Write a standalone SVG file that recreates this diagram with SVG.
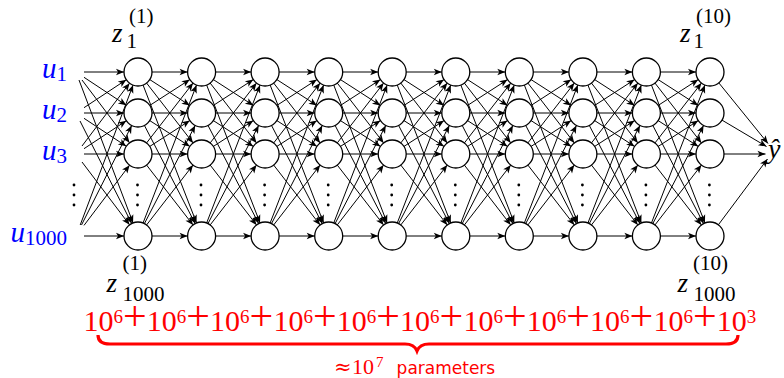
<svg xmlns="http://www.w3.org/2000/svg" width="784" height="378" viewBox="0 0 784 378">
  <style>
    .n circle { fill: #fff; stroke: #000; stroke-width: 1.3; }
    .c line { stroke: #000; stroke-width: 1; fill: none; }
    .dots circle { fill: #000; }
    .in { fill: #00f; font-family: "Liberation Serif", "DejaVu Serif", serif; font-size: 29px; font-style: italic; }
    .in tspan { font-style: normal; font-size: 21px; }
    .zi { font-family: "Liberation Serif", "DejaVu Serif", serif; font-size: 27px; font-style: italic; fill: #000; }
    .sc { font-size: 21px; font-style: normal; }
    .red { font-family: "Liberation Serif", "DejaVu Serif", serif; fill: #f00; }
    .big { font-size: 30px; }
    .sup { font-size: 19px; }
    .plus { font-size: 42px; }
  </style>
  <defs>
    <!-- arrowhead whose tip sits 14px before the line end (on the circle border) -->
    <marker id="ah" viewBox="-30 -10 40 20" markerWidth="40" markerHeight="20" refX="0" refY="0" markerUnits="userSpaceOnUse" orient="auto">
      <path d="M-14,0 L-22,-3.3 L-20,0 L-22,3.3 Z" fill="#000"/>
    </marker>
    <!-- arrowhead with the tip at the line end -->
    <marker id="at" viewBox="-20 -10 30 20" markerWidth="30" markerHeight="20" refX="0" refY="0" markerUnits="userSpaceOnUse" orient="auto">
      <path d="M0,0 L-8,-3.3 L-6,0 L-8,3.3 Z" fill="#000"/>
    </marker>
  </defs>
  <rect width="784" height="378" fill="#fff"/>

  <!-- connectors -->
  <g id="connectors" class="c" marker-end="url(#ah)">
    <!-- inputs to layer 1 -->
    <line x1="84" y1="72" x2="138" y2="72"/>
    <line x1="84" y1="77.3" x2="138" y2="113"/>
    <line x1="82" y1="80" x2="138" y2="154"/>
    <line x1="79" y1="80" x2="138" y2="236"/>
    <line x1="84" y1="107.7" x2="138" y2="72"/>
    <line x1="84" y1="113" x2="138" y2="113"/>
    <line x1="84" y1="118.3" x2="138" y2="154"/>
    <line x1="80" y1="121" x2="138" y2="236"/>
    <line x1="82" y1="146" x2="138" y2="72"/>
    <line x1="84" y1="148.7" x2="138" y2="113"/>
    <line x1="84" y1="154" x2="138" y2="154"/>
    <line x1="82" y1="162" x2="138" y2="236"/>
    <line x1="80.2" y1="225" x2="138" y2="72"/>
    <line x1="81.5" y1="225" x2="138" y2="113"/>
    <line x1="84" y1="225.4" x2="138" y2="154"/>
    <line x1="84" y1="236" x2="138" y2="236"/>
    <!-- layer 1 to 2 -->
    <line x1="138" y1="72" x2="201.6" y2="72"/><line x1="138" y1="72" x2="201.6" y2="113"/><line x1="138" y1="72" x2="201.6" y2="154"/><line x1="138" y1="72" x2="201.6" y2="236"/>
    <line x1="138" y1="113" x2="201.6" y2="72"/><line x1="138" y1="113" x2="201.6" y2="113"/><line x1="138" y1="113" x2="201.6" y2="154"/><line x1="138" y1="113" x2="201.6" y2="236"/>
    <line x1="138" y1="154" x2="201.6" y2="72"/><line x1="138" y1="154" x2="201.6" y2="113"/><line x1="138" y1="154" x2="201.6" y2="154"/><line x1="138" y1="154" x2="201.6" y2="236"/>
    <line x1="138" y1="236" x2="201.6" y2="72"/><line x1="138" y1="236" x2="201.6" y2="113"/><line x1="138" y1="236" x2="201.6" y2="154"/><line x1="138" y1="236" x2="201.6" y2="236"/>
    <!-- layer 2 to 3 -->
    <line x1="201.6" y1="72" x2="265.1" y2="72"/><line x1="201.6" y1="72" x2="265.1" y2="113"/><line x1="201.6" y1="72" x2="265.1" y2="154"/><line x1="201.6" y1="72" x2="265.1" y2="236"/>
    <line x1="201.6" y1="113" x2="265.1" y2="72"/><line x1="201.6" y1="113" x2="265.1" y2="113"/><line x1="201.6" y1="113" x2="265.1" y2="154"/><line x1="201.6" y1="113" x2="265.1" y2="236"/>
    <line x1="201.6" y1="154" x2="265.1" y2="72"/><line x1="201.6" y1="154" x2="265.1" y2="113"/><line x1="201.6" y1="154" x2="265.1" y2="154"/><line x1="201.6" y1="154" x2="265.1" y2="236"/>
    <line x1="201.6" y1="236" x2="265.1" y2="72"/><line x1="201.6" y1="236" x2="265.1" y2="113"/><line x1="201.6" y1="236" x2="265.1" y2="154"/><line x1="201.6" y1="236" x2="265.1" y2="236"/>
    <!-- layer 3 to 4 -->
    <line x1="265.1" y1="72" x2="328.7" y2="72"/><line x1="265.1" y1="72" x2="328.7" y2="113"/><line x1="265.1" y1="72" x2="328.7" y2="154"/><line x1="265.1" y1="72" x2="328.7" y2="236"/>
    <line x1="265.1" y1="113" x2="328.7" y2="72"/><line x1="265.1" y1="113" x2="328.7" y2="113"/><line x1="265.1" y1="113" x2="328.7" y2="154"/><line x1="265.1" y1="113" x2="328.7" y2="236"/>
    <line x1="265.1" y1="154" x2="328.7" y2="72"/><line x1="265.1" y1="154" x2="328.7" y2="113"/><line x1="265.1" y1="154" x2="328.7" y2="154"/><line x1="265.1" y1="154" x2="328.7" y2="236"/>
    <line x1="265.1" y1="236" x2="328.7" y2="72"/><line x1="265.1" y1="236" x2="328.7" y2="113"/><line x1="265.1" y1="236" x2="328.7" y2="154"/><line x1="265.1" y1="236" x2="328.7" y2="236"/>
    <!-- layer 4 to 5 -->
    <line x1="328.7" y1="72" x2="392.2" y2="72"/><line x1="328.7" y1="72" x2="392.2" y2="113"/><line x1="328.7" y1="72" x2="392.2" y2="154"/><line x1="328.7" y1="72" x2="392.2" y2="236"/>
    <line x1="328.7" y1="113" x2="392.2" y2="72"/><line x1="328.7" y1="113" x2="392.2" y2="113"/><line x1="328.7" y1="113" x2="392.2" y2="154"/><line x1="328.7" y1="113" x2="392.2" y2="236"/>
    <line x1="328.7" y1="154" x2="392.2" y2="72"/><line x1="328.7" y1="154" x2="392.2" y2="113"/><line x1="328.7" y1="154" x2="392.2" y2="154"/><line x1="328.7" y1="154" x2="392.2" y2="236"/>
    <line x1="328.7" y1="236" x2="392.2" y2="72"/><line x1="328.7" y1="236" x2="392.2" y2="113"/><line x1="328.7" y1="236" x2="392.2" y2="154"/><line x1="328.7" y1="236" x2="392.2" y2="236"/>
    <!-- layer 5 to 6 -->
    <line x1="392.2" y1="72" x2="455.8" y2="72"/><line x1="392.2" y1="72" x2="455.8" y2="113"/><line x1="392.2" y1="72" x2="455.8" y2="154"/><line x1="392.2" y1="72" x2="455.8" y2="236"/>
    <line x1="392.2" y1="113" x2="455.8" y2="72"/><line x1="392.2" y1="113" x2="455.8" y2="113"/><line x1="392.2" y1="113" x2="455.8" y2="154"/><line x1="392.2" y1="113" x2="455.8" y2="236"/>
    <line x1="392.2" y1="154" x2="455.8" y2="72"/><line x1="392.2" y1="154" x2="455.8" y2="113"/><line x1="392.2" y1="154" x2="455.8" y2="154"/><line x1="392.2" y1="154" x2="455.8" y2="236"/>
    <line x1="392.2" y1="236" x2="455.8" y2="72"/><line x1="392.2" y1="236" x2="455.8" y2="113"/><line x1="392.2" y1="236" x2="455.8" y2="154"/><line x1="392.2" y1="236" x2="455.8" y2="236"/>
    <!-- layer 6 to 7 -->
    <line x1="455.8" y1="72" x2="519.3" y2="72"/><line x1="455.8" y1="72" x2="519.3" y2="113"/><line x1="455.8" y1="72" x2="519.3" y2="154"/><line x1="455.8" y1="72" x2="519.3" y2="236"/>
    <line x1="455.8" y1="113" x2="519.3" y2="72"/><line x1="455.8" y1="113" x2="519.3" y2="113"/><line x1="455.8" y1="113" x2="519.3" y2="154"/><line x1="455.8" y1="113" x2="519.3" y2="236"/>
    <line x1="455.8" y1="154" x2="519.3" y2="72"/><line x1="455.8" y1="154" x2="519.3" y2="113"/><line x1="455.8" y1="154" x2="519.3" y2="154"/><line x1="455.8" y1="154" x2="519.3" y2="236"/>
    <line x1="455.8" y1="236" x2="519.3" y2="72"/><line x1="455.8" y1="236" x2="519.3" y2="113"/><line x1="455.8" y1="236" x2="519.3" y2="154"/><line x1="455.8" y1="236" x2="519.3" y2="236"/>
    <!-- layer 7 to 8 -->
    <line x1="519.3" y1="72" x2="582.9" y2="72"/><line x1="519.3" y1="72" x2="582.9" y2="113"/><line x1="519.3" y1="72" x2="582.9" y2="154"/><line x1="519.3" y1="72" x2="582.9" y2="236"/>
    <line x1="519.3" y1="113" x2="582.9" y2="72"/><line x1="519.3" y1="113" x2="582.9" y2="113"/><line x1="519.3" y1="113" x2="582.9" y2="154"/><line x1="519.3" y1="113" x2="582.9" y2="236"/>
    <line x1="519.3" y1="154" x2="582.9" y2="72"/><line x1="519.3" y1="154" x2="582.9" y2="113"/><line x1="519.3" y1="154" x2="582.9" y2="154"/><line x1="519.3" y1="154" x2="582.9" y2="236"/>
    <line x1="519.3" y1="236" x2="582.9" y2="72"/><line x1="519.3" y1="236" x2="582.9" y2="113"/><line x1="519.3" y1="236" x2="582.9" y2="154"/><line x1="519.3" y1="236" x2="582.9" y2="236"/>
    <!-- layer 8 to 9 -->
    <line x1="582.9" y1="72" x2="646.4" y2="72"/><line x1="582.9" y1="72" x2="646.4" y2="113"/><line x1="582.9" y1="72" x2="646.4" y2="154"/><line x1="582.9" y1="72" x2="646.4" y2="236"/>
    <line x1="582.9" y1="113" x2="646.4" y2="72"/><line x1="582.9" y1="113" x2="646.4" y2="113"/><line x1="582.9" y1="113" x2="646.4" y2="154"/><line x1="582.9" y1="113" x2="646.4" y2="236"/>
    <line x1="582.9" y1="154" x2="646.4" y2="72"/><line x1="582.9" y1="154" x2="646.4" y2="113"/><line x1="582.9" y1="154" x2="646.4" y2="154"/><line x1="582.9" y1="154" x2="646.4" y2="236"/>
    <line x1="582.9" y1="236" x2="646.4" y2="72"/><line x1="582.9" y1="236" x2="646.4" y2="113"/><line x1="582.9" y1="236" x2="646.4" y2="154"/><line x1="582.9" y1="236" x2="646.4" y2="236"/>
    <!-- layer 9 to 10 -->
    <line x1="646.4" y1="72" x2="710" y2="72"/><line x1="646.4" y1="72" x2="710" y2="113"/><line x1="646.4" y1="72" x2="710" y2="154"/><line x1="646.4" y1="72" x2="710" y2="236"/>
    <line x1="646.4" y1="113" x2="710" y2="72"/><line x1="646.4" y1="113" x2="710" y2="113"/><line x1="646.4" y1="113" x2="710" y2="154"/><line x1="646.4" y1="113" x2="710" y2="236"/>
    <line x1="646.4" y1="154" x2="710" y2="72"/><line x1="646.4" y1="154" x2="710" y2="113"/><line x1="646.4" y1="154" x2="710" y2="154"/><line x1="646.4" y1="154" x2="710" y2="236"/>
    <line x1="646.4" y1="236" x2="710" y2="72"/><line x1="646.4" y1="236" x2="710" y2="113"/><line x1="646.4" y1="236" x2="710" y2="154"/><line x1="646.4" y1="236" x2="710" y2="236"/>
    <!-- layer 10 to output -->
    <g marker-end="url(#at)">
      <line x1="710" y1="72" x2="768" y2="143.5"/>
      <line x1="710" y1="113" x2="766.5" y2="146.5"/>
      <line x1="710" y1="154" x2="765.5" y2="154"/>
      <line x1="710" y1="236" x2="767.5" y2="159"/>
    </g>
  </g>

  <!-- hidden units -->
  <g id="z1_1" class="n"><circle cx="138" cy="72" r="14"/></g>
  <g id="z1_2" class="n"><circle cx="138" cy="113" r="14"/></g>
  <g id="z1_3" class="n"><circle cx="138" cy="154" r="14"/></g>
  <g id="z1_1000" class="n"><circle cx="138" cy="236" r="14"/></g>
  <g id="z2_1" class="n"><circle cx="201.6" cy="72" r="14"/></g>
  <g id="z2_2" class="n"><circle cx="201.6" cy="113" r="14"/></g>
  <g id="z2_3" class="n"><circle cx="201.6" cy="154" r="14"/></g>
  <g id="z2_1000" class="n"><circle cx="201.6" cy="236" r="14"/></g>
  <g id="z3_1" class="n"><circle cx="265.1" cy="72" r="14"/></g>
  <g id="z3_2" class="n"><circle cx="265.1" cy="113" r="14"/></g>
  <g id="z3_3" class="n"><circle cx="265.1" cy="154" r="14"/></g>
  <g id="z3_1000" class="n"><circle cx="265.1" cy="236" r="14"/></g>
  <g id="z4_1" class="n"><circle cx="328.7" cy="72" r="14"/></g>
  <g id="z4_2" class="n"><circle cx="328.7" cy="113" r="14"/></g>
  <g id="z4_3" class="n"><circle cx="328.7" cy="154" r="14"/></g>
  <g id="z4_1000" class="n"><circle cx="328.7" cy="236" r="14"/></g>
  <g id="z5_1" class="n"><circle cx="392.2" cy="72" r="14"/></g>
  <g id="z5_2" class="n"><circle cx="392.2" cy="113" r="14"/></g>
  <g id="z5_3" class="n"><circle cx="392.2" cy="154" r="14"/></g>
  <g id="z5_1000" class="n"><circle cx="392.2" cy="236" r="14"/></g>
  <g id="z6_1" class="n"><circle cx="455.8" cy="72" r="14"/></g>
  <g id="z6_2" class="n"><circle cx="455.8" cy="113" r="14"/></g>
  <g id="z6_3" class="n"><circle cx="455.8" cy="154" r="14"/></g>
  <g id="z6_1000" class="n"><circle cx="455.8" cy="236" r="14"/></g>
  <g id="z7_1" class="n"><circle cx="519.3" cy="72" r="14"/></g>
  <g id="z7_2" class="n"><circle cx="519.3" cy="113" r="14"/></g>
  <g id="z7_3" class="n"><circle cx="519.3" cy="154" r="14"/></g>
  <g id="z7_1000" class="n"><circle cx="519.3" cy="236" r="14"/></g>
  <g id="z8_1" class="n"><circle cx="582.9" cy="72" r="14"/></g>
  <g id="z8_2" class="n"><circle cx="582.9" cy="113" r="14"/></g>
  <g id="z8_3" class="n"><circle cx="582.9" cy="154" r="14"/></g>
  <g id="z8_1000" class="n"><circle cx="582.9" cy="236" r="14"/></g>
  <g id="z9_1" class="n"><circle cx="646.4" cy="72" r="14"/></g>
  <g id="z9_2" class="n"><circle cx="646.4" cy="113" r="14"/></g>
  <g id="z9_3" class="n"><circle cx="646.4" cy="154" r="14"/></g>
  <g id="z9_1000" class="n"><circle cx="646.4" cy="236" r="14"/></g>
  <g id="z10_1" class="n"><circle cx="710" cy="72" r="14"/></g>
  <g id="z10_2" class="n"><circle cx="710" cy="113" r="14"/></g>
  <g id="z10_3" class="n"><circle cx="710" cy="154" r="14"/></g>
  <g id="z10_1000" class="n"><circle cx="710" cy="236" r="14"/></g>

  <!-- vertical ellipses between unit 3 and unit 1000 -->
  <g class="dots">
    <circle cx="74" cy="185" r="1.4"/><circle cx="74" cy="195" r="1.4"/><circle cx="74" cy="205" r="1.4"/>
    <circle cx="137.5" cy="185" r="1.4"/><circle cx="137.5" cy="195" r="1.4"/><circle cx="137.5" cy="205" r="1.4"/>
    <circle cx="201" cy="185" r="1.4"/><circle cx="201" cy="195" r="1.4"/><circle cx="201" cy="205" r="1.4"/>
    <circle cx="264.6" cy="185" r="1.4"/><circle cx="264.6" cy="195" r="1.4"/><circle cx="264.6" cy="205" r="1.4"/>
    <circle cx="328.2" cy="185" r="1.4"/><circle cx="328.2" cy="195" r="1.4"/><circle cx="328.2" cy="205" r="1.4"/>
    <circle cx="391.7" cy="185" r="1.4"/><circle cx="391.7" cy="195" r="1.4"/><circle cx="391.7" cy="205" r="1.4"/>
    <circle cx="455.3" cy="185" r="1.4"/><circle cx="455.3" cy="195" r="1.4"/><circle cx="455.3" cy="205" r="1.4"/>
    <circle cx="518.8" cy="185" r="1.4"/><circle cx="518.8" cy="195" r="1.4"/><circle cx="518.8" cy="205" r="1.4"/>
    <circle cx="582.4" cy="185" r="1.4"/><circle cx="582.4" cy="195" r="1.4"/><circle cx="582.4" cy="205" r="1.4"/>
    <circle cx="645.9" cy="185" r="1.4"/><circle cx="645.9" cy="195" r="1.4"/><circle cx="645.9" cy="205" r="1.4"/>
    <circle cx="709.4" cy="185" r="1.4"/><circle cx="709.4" cy="195" r="1.4"/><circle cx="709.4" cy="205" r="1.4"/>
  </g>

  <!-- inputs -->
  <g id="u1"><text class="in" x="67" y="78" text-anchor="end">u<tspan dy="3">1</tspan></text></g>
  <g id="u2"><text class="in" x="67" y="119" text-anchor="end">u<tspan dy="3">2</tspan></text></g>
  <g id="u3"><text class="in" x="67" y="160" text-anchor="end">u<tspan dy="3">3</tspan></text></g>
  <g id="u1000"><text class="in" x="67" y="242" text-anchor="end">u<tspan dy="3">1000</tspan></text></g>

  <!-- output -->
  <g id="yhat"><text class="zi" x="768" y="158" style="font-size:28px">ŷ</text></g>

  <!-- unit labels -->
  <g id="lbl_z1_1"><text class="zi" x="112" y="42">z<tspan class="sc" x="126.5" y="47.5">1</tspan><tspan class="sc" x="129" y="23">(1)</tspan></text></g>
  <g id="lbl_z10_1"><text class="zi" x="680" y="42">z<tspan class="sc" x="693.5" y="47.5">1</tspan><tspan class="sc" x="696" y="23">(10)</tspan></text></g>
  <g id="lbl_z1_1000"><text class="zi" x="106.5" y="292">z<tspan class="sc" x="122.5" y="301">1000</tspan><tspan class="sc" x="122.5" y="270">(1)</tspan></text></g>
  <g id="lbl_z10_1000"><text class="zi" x="677.5" y="292">z<tspan class="sc" x="693.5" y="301">1000</tspan><tspan class="sc" x="693" y="270">(10)</tspan></text></g>

  <!-- parameter count -->
  <g id="count" class="red">
    <text class="big" y="331"><tspan x="83.4" y="331">10</tspan><tspan class="sup" x="113.4" y="323">6</tspan><tspan class="plus" x="122.9" y="330">+</tspan><tspan x="146.7" y="331">10</tspan><tspan class="sup" x="176.7" y="323">6</tspan><tspan class="plus" x="186.2" y="330">+</tspan><tspan x="210.1" y="331">10</tspan><tspan class="sup" x="240.1" y="323">6</tspan><tspan class="plus" x="249.6" y="330">+</tspan><tspan x="273.4" y="331">10</tspan><tspan class="sup" x="303.4" y="323">6</tspan><tspan class="plus" x="312.9" y="330">+</tspan><tspan x="336.7" y="331">10</tspan><tspan class="sup" x="366.7" y="323">6</tspan><tspan class="plus" x="376.2" y="330">+</tspan><tspan x="400.1" y="331">10</tspan><tspan class="sup" x="430.1" y="323">6</tspan><tspan class="plus" x="439.6" y="330">+</tspan><tspan x="463.4" y="331">10</tspan><tspan class="sup" x="493.4" y="323">6</tspan><tspan class="plus" x="502.9" y="330">+</tspan><tspan x="526.7" y="331">10</tspan><tspan class="sup" x="556.7" y="323">6</tspan><tspan class="plus" x="566.2" y="330">+</tspan><tspan x="590.1" y="331">10</tspan><tspan class="sup" x="620.1" y="323">6</tspan><tspan class="plus" x="629.6" y="330">+</tspan><tspan x="653.4" y="331">10</tspan><tspan class="sup" x="683.4" y="323">6</tspan><tspan class="plus" x="692.9" y="330">+</tspan><tspan x="716.7" y="331">10</tspan><tspan class="sup" x="746.7" y="323">3</tspan></text>
    <path d="M98,335 C98,341 102,344 110,344 L405,344 C411,344 415,346 417,351 C419,346 423,344 429,344 L726,344 C734,344 738,341 738,335" fill="none" stroke="#f00" stroke-width="3.2"/>
    <text x="334" y="374" style="font-size:22px"><tspan style="font-family:'DejaVu Serif',serif;font-size:21px">≈</tspan><tspan x="352" y="374">10</tspan><tspan x="376" y="367" style="font-size:15px">7</tspan><tspan x="396.6" y="374" style="font-family:'DejaVu Sans',sans-serif;font-size:17px">parameters</tspan></text>
  </g>
</svg>
